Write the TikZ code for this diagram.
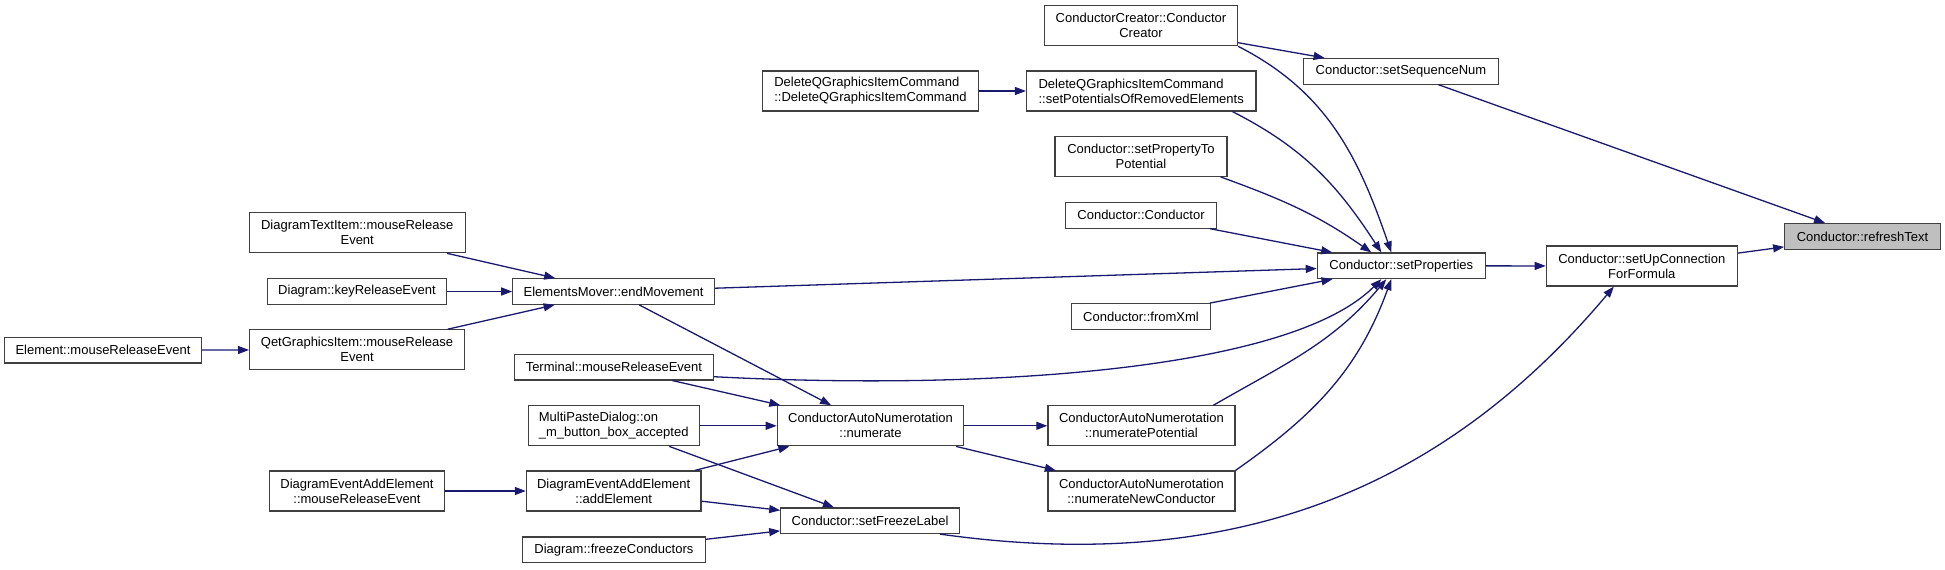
\documentclass[tikz,border=0pt]{standalone}
\usepackage{fontspec}
\setmainfont{Liberation Sans}
\usetikzlibrary{arrows.meta,positioning,calc}
\definecolor{edgeblue}{HTML}{191970}
\definecolor{hlgray}{HTML}{BFBFBF}
\definecolor{boxline}{HTML}{404040}

\begin{document}
\begin{tikzpicture}[
  x=0.5pt, y=0.5pt,
  font=\fontsize{6.5}{7.5}\selectfont,
  >={Triangle[length=5.5pt,width=4pt]},
  fn/.style={draw=boxline, line width=0.6pt, fill=white, inner sep=0pt, align=center, minimum height=12.8pt},
  fn2/.style={fn, minimum height=20pt},
  fnl/.style={fn2, align=left},
  fnhl/.style={fn, fill=hlgray},
  call/.style={->, draw=edgeblue, line width=0.65pt},
]
\useasboundingbox (0,0) rectangle (1945,-569);

% Right side: the function and its direct callers
\node[fnhl, minimum width=77.8pt] (refresh)   at (1862.5,-236.4) {Conductor::refreshText};
\node[fn2, minimum width=95.5pt]  (setUpConn) at (1641.8,-266)   {Conductor::setUpConnection\\ForFormula};
\node[fn, minimum width=84pt]     (setProps)  at (1401.3,-265.8) {Conductor::setProperties};
\node[fn, minimum width=97.5pt]   (setSeq)    at (1401,-71.3)    {Conductor::setSequenceNum};

% Column of callers of setProperties
\node[fn2, minimum width=96.5pt]  (creator)    at (1141,-25.7)    {ConductorCreator::Conductor\\Creator};
\node[fnl, minimum width=114.7pt] (delSetPot)  at (1141.2,-91)    {DeleteQGraphicsItemCommand\\::setPotentialsOfRemovedElements};
\node[fn2, minimum width=86pt]    (setPropPot) at (1141,-156.3)   {Conductor::setPropertyTo\\Potential};
\node[fn, minimum width=75.5pt]   (ctor)       at (1141,-215.3)   {Conductor::Conductor};
\node[fn, minimum width=69.5pt]   (fromXml)    at (1141,-316.5)   {Conductor::fromXml};
\node[fn2, minimum width=93.5pt]  (numPot)     at (1141.4,-425.8) {ConductorAutoNumerotation\\::numeratePotential};
\node[fn2, minimum width=93.5pt]  (numNew)     at (1141.4,-491)   {ConductorAutoNumerotation\\::numerateNewConductor};

% Middle column
\node[fnl, minimum width=108pt]   (delCtor)  at (870.4,-91)    {DeleteQGraphicsItemCommand\\::DeleteQGraphicsItemCommand};
\node[fn2, minimum width=93.25pt] (numerate) at (870.5,-425.8) {ConductorAutoNumerotation\\::numerate};
\node[fn, minimum width=89.3pt]   (freeze)   at (870.1,-520.7) {Conductor::setFreezeLabel};

% Callers of numerate / setFreezeLabel / endMovement
\node[fn, minimum width=100.8pt] (endMove)    at (613.6,-291.5) {ElementsMover::endMovement};
\node[fn, minimum width=99.5pt]  (termRel)    at (613.9,-367.2) {Terminal::mouseReleaseEvent};
\node[fnl, minimum width=85.4pt] (multiPaste) at (613.7,-425.8) {MultiPasteDialog::on\\\_m\_button\_box\_accepted};
\node[fn2, minimum width=87.3pt] (addElem)    at (613.7,-491)   {DiagramEventAddElement\\::addElement};
\node[fn, minimum width=91.4pt]  (freezeCond) at (613.9,-549.7) {Diagram::freezeConductors};

% Left columns
\node[fn2, minimum width=108pt]   (textItemRel) at (357.2,-232.7) {DiagramTextItem::mouseRelease\\Event};
\node[fn, minimum width=89.4pt]   (keyRel)      at (357,-291.5)   {Diagram::keyReleaseEvent};
\node[fn2, minimum width=107.4pt] (qetRel)      at (357,-349.8)   {QetGraphicsItem::mouseRelease\\Event};
\node[fn2, minimum width=87.5pt]  (addElemRel)  at (357,-491)     {DiagramEventAddElement\\::mouseReleaseEvent};
\node[fn, minimum width=98.2pt]   (elemRel)     at (103,-350.2)   {Element::mouseReleaseEvent};

% Straight calls
\draw[call] (delCtor) -- (delSetPot);
\draw[call] (creator) -- (setSeq);
\draw[call] (setSeq) -- (refresh);
\draw[call] (setUpConn) -- (refresh);
\draw[call] (setProps) -- (setUpConn);
\draw[call] (ctor) -- (setProps);
\draw[call] (fromXml) -- (setProps);
\draw[call] (endMove) -- (setProps);
\draw[call] (textItemRel) -- (endMove);
\draw[call] (keyRel) -- (endMove);
\draw[call] (qetRel) -- (endMove);
\draw[call] (elemRel) -- (qetRel);
\draw[call] (endMove) -- (numerate);
\draw[call] (termRel) -- (numerate);
\draw[call] (multiPaste) -- (numerate);
\draw[call] (addElem) -- (numerate);
\draw[call] (multiPaste) -- (freeze);
\draw[call] (addElem) -- (freeze);
\draw[call] (freezeCond) -- (freeze);
\draw[call] (addElemRel) -- (addElem);
\draw[call] (numerate) -- (numPot);
\draw[call] (numerate) -- (numNew);

% Curved calls
\draw[call] (creator.south east) to[out=-27, in=109] ($(setProps.north)+(-10,0)$);
\draw[call] ($(delSetPot.south east)+(-24,0)$) to[out=-27, in=123] ($(setProps.north)+(-20,0)$);
\draw[call] ($(setPropPot.south east)+(-7,0)$) to[out=-20, in=145] ($(setProps.north)+(-30,0)$);
\draw[call] ($(termRel.east)+(0,-9.5)$) to[out=-3, in=-135, in looseness=0.5] ($(setProps.south)+(-20,0)$);
\draw[call] ($(numPot.north east)+(-22,0)$) to[out=30, in=-130] ($(setProps.south)+(-15,0)$);
\draw[call] (numNew.north east) to[out=35, in=-110] ($(setProps.south)+(-10,0)$);
\draw[call] ($(freeze.south east)+(-20,0)$) to[out=-8, in=-130] ($(setUpConn.south)+(-28,0)$);

\end{tikzpicture}
\end{document}
